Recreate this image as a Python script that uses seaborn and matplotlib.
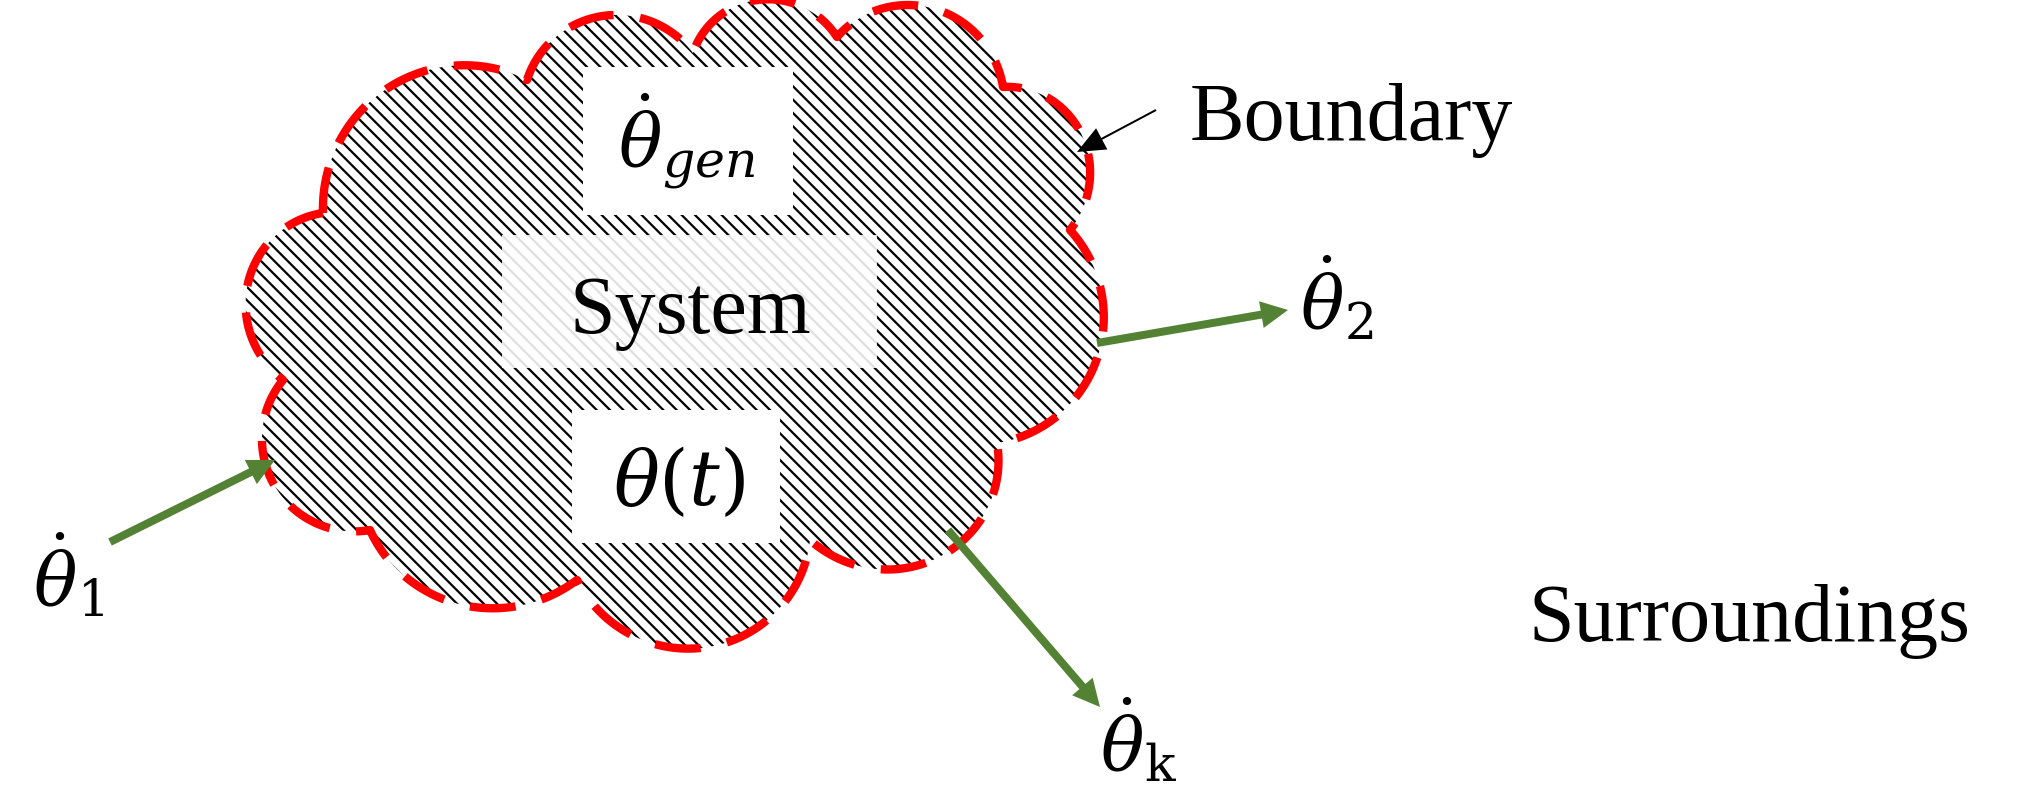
import numpy as np
import matplotlib
matplotlib.use("Agg")
import matplotlib.pyplot as plt
import seaborn as sns
import pandas as pd
from matplotlib.patches import Polygon, Rectangle

# ---------------- data (pixel space of the 2022x811 picture) ----------------
# cloud: junction points between bumps and the centre of each bump
junction_x = [323, 527, 693, 837, 1003, 1070, 997, 810, 577, 370, 283]
junction_y = [213, 80, 53, 37, 87, 230, 443, 540, 580, 530, 380]
bump_cx = [468, 615, 765, 905, 1000, 975, 893, 690, 485, 355, 340]
bump_cy = [205, 110, 80, 100, 165, 320, 455, 525, 470, 440, 300]

# boxes inside the cloud: (left, top, right, bottom)
box_names = ["gen", "system", "state"]
box_left = [583, 502, 572]
box_top = [67, 235, 410]
box_right = [793, 877, 780]
box_bottom = [215, 368, 543]

# flow arrows: start -> tip
arrow_names = ["theta1", "theta2", "thetak"]
arrow_x0 = [110, 1097, 948]
arrow_y0 = [542, 343, 530]
arrow_x1 = [275, 1288, 1100]
arrow_y1 = [460, 310, 707]

boundary_arrow = dict(x0=1156, y0=110, x1=1077, y1=152)

labels_text = ["System", "Boundary", "Surroundings"]
labels_x = [690, 1190, 1529]
labels_y = [333, 140, 641]
labels_ha = ["center", "left", "left"]

math_text = [r"$\dot{\theta}_{gen}$", r"$\theta(t)$", r"$\dot{\theta}_1$",
             r"$\dot{\theta}_2$", r"$\dot{\theta}_{\mathrm{k}}$"]
math_x = [618, 679, 33, 1300, 1100]
math_y = [167, 505, 606, 329, 771]
math_ha = ["left", "center", "left", "left", "left"]
math_size = [52, 55, 52, 52, 52]

# ---------------- style ----------------
DPI = 80
S = 100 / DPI  # keep point sizes equivalent to a 100-dpi layout
sns.set_theme(style="white")
plt.rcParams["font.family"] = ["Liberation Serif", "DejaVu Serif"]
plt.rcParams["mathtext.fontset"] = "dejavuserif"
plt.rcParams["hatch.linewidth"] = 1.6 * S

W, H = 2022, 811
fig = plt.figure(figsize=(W / DPI, H / DPI), dpi=DPI)
ax = fig.add_axes([0, 0, 1, 1])
ax.set_xlim(0, W)
ax.set_ylim(H, 0)
ax.axis("off")

# ---------------- cloud outline ----------------
jx = np.array(junction_x, float)
jy = np.array(junction_y, float)
cx = np.array(bump_cx, float)
cy = np.array(bump_cy, float)
gx, gy = jx.mean(), jy.mean()
n = len(jx)
px, py = [], []
for i in range(n):
    ax0, ay0 = jx[i], jy[i]
    ax1, ay1 = jx[(i + 1) % n], jy[(i + 1) % n]
    a0 = np.arctan2(ay0 - cy[i], ax0 - cx[i])
    a1 = np.arctan2(ay1 - cy[i], ax1 - cx[i])
    r0 = np.hypot(ax0 - cx[i], ay0 - cy[i])
    r1 = np.hypot(ax1 - cx[i], ay1 - cy[i])
    d = (a1 - a0) % (2 * np.pi)
    best = None
    for delta in (d, d - 2 * np.pi):
        am = a0 + delta / 2
        rm = (r0 + r1) / 2
        mx, my = cx[i] + rm * np.cos(am), cy[i] + rm * np.sin(am)
        dist = np.hypot(mx - gx, my - gy)
        if best is None or dist > best[0]:
            best = (dist, delta)
    delta = best[1]
    t = np.linspace(0, 1, 60, endpoint=False)
    ang = a0 + delta * t
    rad = r0 + (r1 - r0) * t
    px.extend(cx[i] + rad * np.cos(ang))
    py.extend(cy[i] + rad * np.sin(ang))
px.append(px[0])
py.append(py[0])

cloud = Polygon(np.column_stack([px, py]), closed=True, facecolor="white",
                edgecolor="black", linewidth=0, hatch="\\\\", zorder=1)
ax.add_patch(cloud)

# boxes
for i, name in enumerate(box_names):
    if name == "system":
        rect = Rectangle((box_left[i], box_top[i]), box_right[i] - box_left[i],
                         box_bottom[i] - box_top[i], facecolor="white",
                         edgecolor="#e0e0e0", linewidth=0, hatch="\\\\", zorder=2)
    else:
        rect = Rectangle((box_left[i], box_top[i]), box_right[i] - box_left[i],
                         box_bottom[i] - box_top[i], facecolor="white",
                         edgecolor="white", linewidth=0, zorder=2)
    ax.add_patch(rect)

# dashed red boundary via seaborn
outline = pd.DataFrame({"x": px, "y": py})
sns.lineplot(data=outline, x="x", y="y", sort=False, estimator=None, ax=ax,
             color="#ff0000", linewidth=6.0 * S, linestyle=(0, (5.5, 3.2)),
             solid_capstyle="butt", dash_capstyle="butt", zorder=3)
ax.set_xlim(0, W)
ax.set_ylim(H, 0)
ax.axis("off")

# green arrows
green = "#548235"
for i in range(len(arrow_names)):
    ax.arrow(arrow_x0[i], arrow_y0[i], arrow_x1[i] - arrow_x0[i], arrow_y1[i] - arrow_y0[i],
             width=8, head_width=27, head_length=27, length_includes_head=True,
             color=green, linewidth=0, zorder=4)

# boundary pointer
b = boundary_arrow
ax.arrow(b["x0"], b["y0"], b["x1"] - b["x0"], b["y1"] - b["y0"], width=2,
         head_width=24, head_length=28, length_includes_head=True,
         color="black", linewidth=0, zorder=4)

# texts
for t, x, y, ha in zip(labels_text, labels_x, labels_y, labels_ha):
    ax.text(x, y, t, ha=ha, va="baseline", fontsize=59 * S, color="black", zorder=5)
for t, x, y, ha, fs in zip(math_text, math_x, math_y, math_ha, math_size):
    ax.text(x, y, t, ha=ha, va="baseline", fontsize=fs * S, color="black", zorder=5)

fig.savefig("out.png", dpi=DPI, facecolor="white")
